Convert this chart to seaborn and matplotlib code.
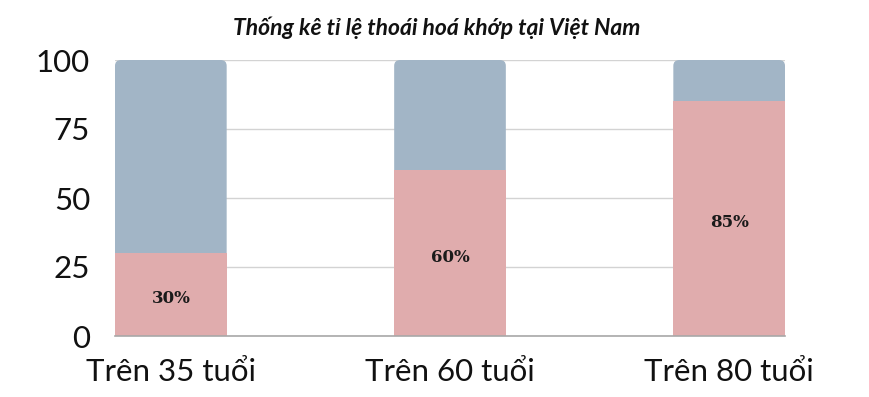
import matplotlib
matplotlib.use("Agg")
import matplotlib.pyplot as plt
import seaborn as sns
import pandas as pd
from matplotlib.patches import FancyBboxPatch

categories = ["Trên 35 tuổi", "Trên 60 tuổi", "Trên 80 tuổi"]
rate = [30, 60, 85]
total = [100, 100, 100]
labels = ["30%", "60%", "85%"]
yticks = [0, 25, 50, 75, 100]
title = "Thống kê tỉ lệ thoái hoá khớp tại Việt Nam"

blue = "#A2B5C6"
pink = "#E0ACAD"

sns.set_theme(style="white")
plt.rcParams['font.family'] = ['Lato', 'DejaVu Sans']

df = pd.DataFrame({"cat": categories, "rate": rate, "total": total})

fig = plt.figure(figsize=(8.7, 3.97), dpi=100)
ax = fig.add_axes([115/870, 1-336/397, 670/870, 276/397])

sns.barplot(data=df, x="cat", y="total", color=blue, width=0.4, ax=ax,
            saturation=1, zorder=2, linewidth=0)
# replace top bars with rounded-corner versions
bars = list(ax.patches)
for p in bars:
    x, y, w, h = p.get_x(), p.get_y(), p.get_width(), p.get_height()
    rp = FancyBboxPatch((x, y), w, h,
                        boxstyle="round,pad=0,rounding_size=0.022",
                        mutation_aspect=95, facecolor=blue, edgecolor="none",
                        linewidth=0, zorder=2)
    p.remove()
    ax.add_patch(rp)

sns.barplot(data=df, x="cat", y="rate", color=pink, width=0.4, ax=ax,
            saturation=1, zorder=3, linewidth=0)

for i, (v, lab) in enumerate(zip(rate, labels)):
    ax.text(i, v / 2 - 1.5, lab, ha="center", va="center", fontsize=12,
            fontweight="bold", family="DejaVu Serif", color="#1a1a1a", zorder=4)

ax.set_xlim(-0.2, 2.2)
ax.set_ylim(0, 100)
ax.set_yticks(yticks)
ax.set_xlabel("")
ax.set_ylabel("")
ax.yaxis.grid(True, color="#D3D3D3", linewidth=1)
ax.set_axisbelow(True)
for s in ["top", "right", "left"]:
    ax.spines[s].set_visible(False)
ax.spines["bottom"].set_color("#A8A8A8")
ax.spines["bottom"].set_linewidth(1.2)
ax.spines["bottom"].set_zorder(5)
ax.tick_params(axis="both", length=0, labelsize=22.5, colors="#111111")
ax.tick_params(axis="y", pad=18)
ax.tick_params(axis="x", pad=16)

fig.text(437/870, 1-28/397, title, ha="center", va="center", fontsize=16.5,
         fontweight="bold", fontstyle="italic", color="#111111")

fig.savefig("out.png", dpi=100)
